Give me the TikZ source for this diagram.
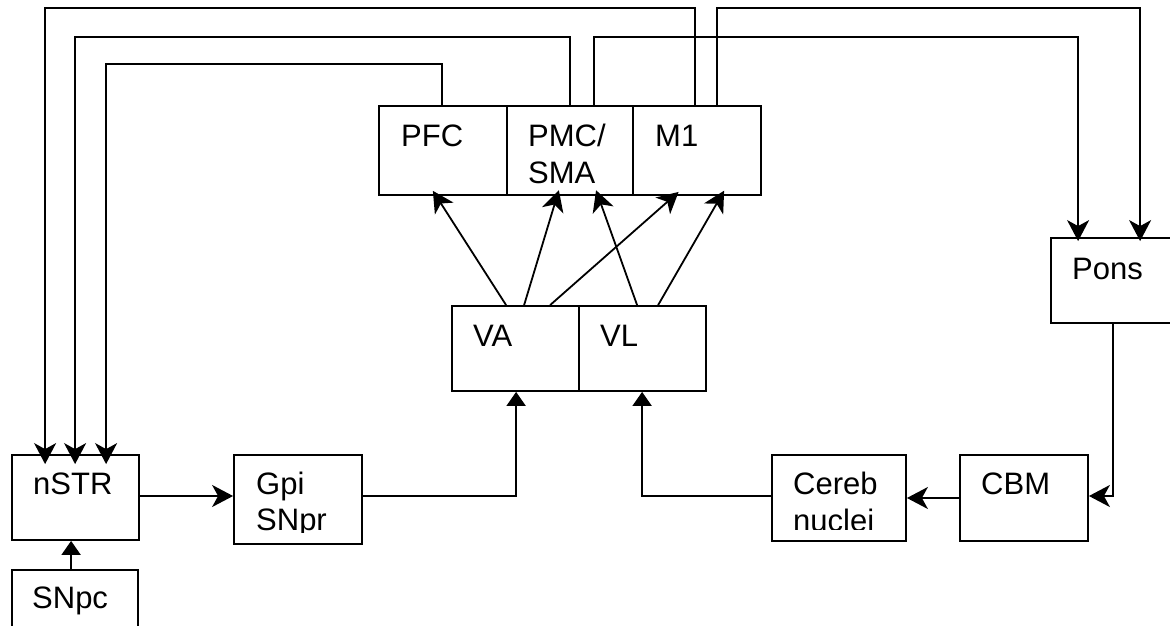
\documentclass[tikz,border=0pt]{standalone}
\usepackage{fontspec}
\setmainfont{Liberation Sans}
\usetikzlibrary{arrows.meta}
\begin{document}
\begin{tikzpicture}[x=1pt,y=-1pt,
  box/.style={draw, line width=1.8pt, rectangle, inner sep=0pt},
  lbl/.style={anchor=base west, inner sep=0pt, font=\fontsize{31}{37}\selectfont},
  wire/.style={line width=1.8pt},
  arr/.style={wire, shorten >=-6pt, -{Stealth[length=21pt,width=22pt,inset=6pt]}},
  tri/.style={wire, -{Triangle[length=14pt,width=19pt]}}]
\useasboundingbox (0,0) rectangle (1170,626);
% boxes
\node[box, minimum width=128pt, minimum height=89pt] (pfc) at (443,150.5) {};
\node[box, minimum width=126pt, minimum height=89pt] (pmc) at (570,150.5) {};
\node[box, minimum width=128pt, minimum height=89pt] (m1) at (697,150.5) {};
\node[box, minimum width=127pt, minimum height=85pt] (va) at (515.5,348.5) {};
\node[box, minimum width=127pt, minimum height=85pt] (vl) at (642.5,348.5) {};
\node[box, minimum width=134pt, minimum height=85pt] (pons) at (1118,280.5) {};
\node[box, minimum width=127pt, minimum height=85pt] (nstr) at (75.5,497.5) {};
\node[box, minimum width=128pt, minimum height=89pt] (gpi) at (298,499.5) {};
\node[box, minimum width=126pt, minimum height=90pt] (snpc) at (75,615) {};
\node[box, minimum width=134pt, minimum height=86pt] (cereb) at (839,498) {};
\node[box, minimum width=128pt, minimum height=86pt] (cbm) at (1024,498) {};
% labels
\node[lbl] (tpfc) at (401,146) {PFC};
\node[lbl] (tpmc) at (528,146) {PMC/};
\node[lbl] (tsma) at (528,183) {SMA};
\node[lbl] (tm1) at (655,146) {M1};
\node[lbl] (tva) at (473,346) {VA};
\node[lbl] (tvl) at (600,346) {VL};
\node[lbl] (tpons) at (1072,279) {Pons};
\node[lbl] (tnstr) at (33,494) {nSTR};
\node[lbl] (tgpi) at (256,494) {Gpi};
\begin{scope}
\clip (234,455) rectangle (362,532);
\node[lbl] (tsnpr) at (256,530) {SNpr};
\end{scope}
\node[lbl] (tcereb) at (793,494) {Cereb};
\begin{scope}
\clip (772,455) rectangle (906,529);
\node[lbl] (tnuclei) at (793,531) {nuclei};
\end{scope}
\node[lbl] (tcbm) at (981,494) {CBM};
\node[lbl] (tsnpc) at (32,608) {SNpc};
% cortex to striatum
\draw[arr, shorten >=-10pt] ([xshift=63pt]m1.north west) -- ++(0,-97) -| ([xshift=34pt]nstr.north west);
\draw[arr, shorten >=-10pt] ([xshift=64pt]pmc.north west) -- ++(0,-68) -| ([xshift=64pt]nstr.north west);
\draw[arr, shorten >=-10pt] ([xshift=64pt]pfc.north west) -- ++(0,-41) -| ([xshift=95pt]nstr.north west);
% cortex to pons
\draw[arr, shorten >=-4pt] ([xshift=88pt]pmc.north west) -- ++(0,-68) -| ([xshift=28pt]pons.north west);
\draw[arr, shorten >=-4pt] ([xshift=85pt]m1.north west) -- ++(0,-97) -| ([xshift=90pt]pons.north west);
% thalamus to cortex
\draw[arr] ([xshift=55pt]va.north west) -- ([xshift=58pt]pfc.south west);
\draw[arr] ([xshift=73pt]va.north west) -- ([xshift=51pt]pmc.south west);
\draw[arr] ([xshift=99pt]va.north west) -- ([xshift=42pt]m1.south west);
\draw[arr] ([xshift=59pt]vl.north west) -- ([xshift=92pt]pmc.south west);
\draw[arr] ([xshift=80pt]vl.north west) -- ([xshift=89pt]m1.south west);
% basal ganglia loop
\draw[arr, shorten >=0pt] ([yshift=1.5pt]nstr.east) -- ([yshift=1.5pt]nstr.east -| gpi.west);
\draw[tri] ([yshift=3.5pt]gpi.east) -| ([xshift=65pt]va.south west);
\draw[tri] ([xshift=60pt]snpc.north west) -- ([xshift=60pt]nstr.south west);
% cerebellar loop
\draw[arr, shorten >=0pt] ([xshift=63pt]pons.south west) |- ([yshift=2pt]cbm.east);
\draw[arr, shorten >=0pt] (cbm.west) -- (cereb.east);
\draw[tri] ([yshift=2pt]cereb.west) -| ([xshift=64pt]vl.south west);
\end{tikzpicture}
\end{document}
